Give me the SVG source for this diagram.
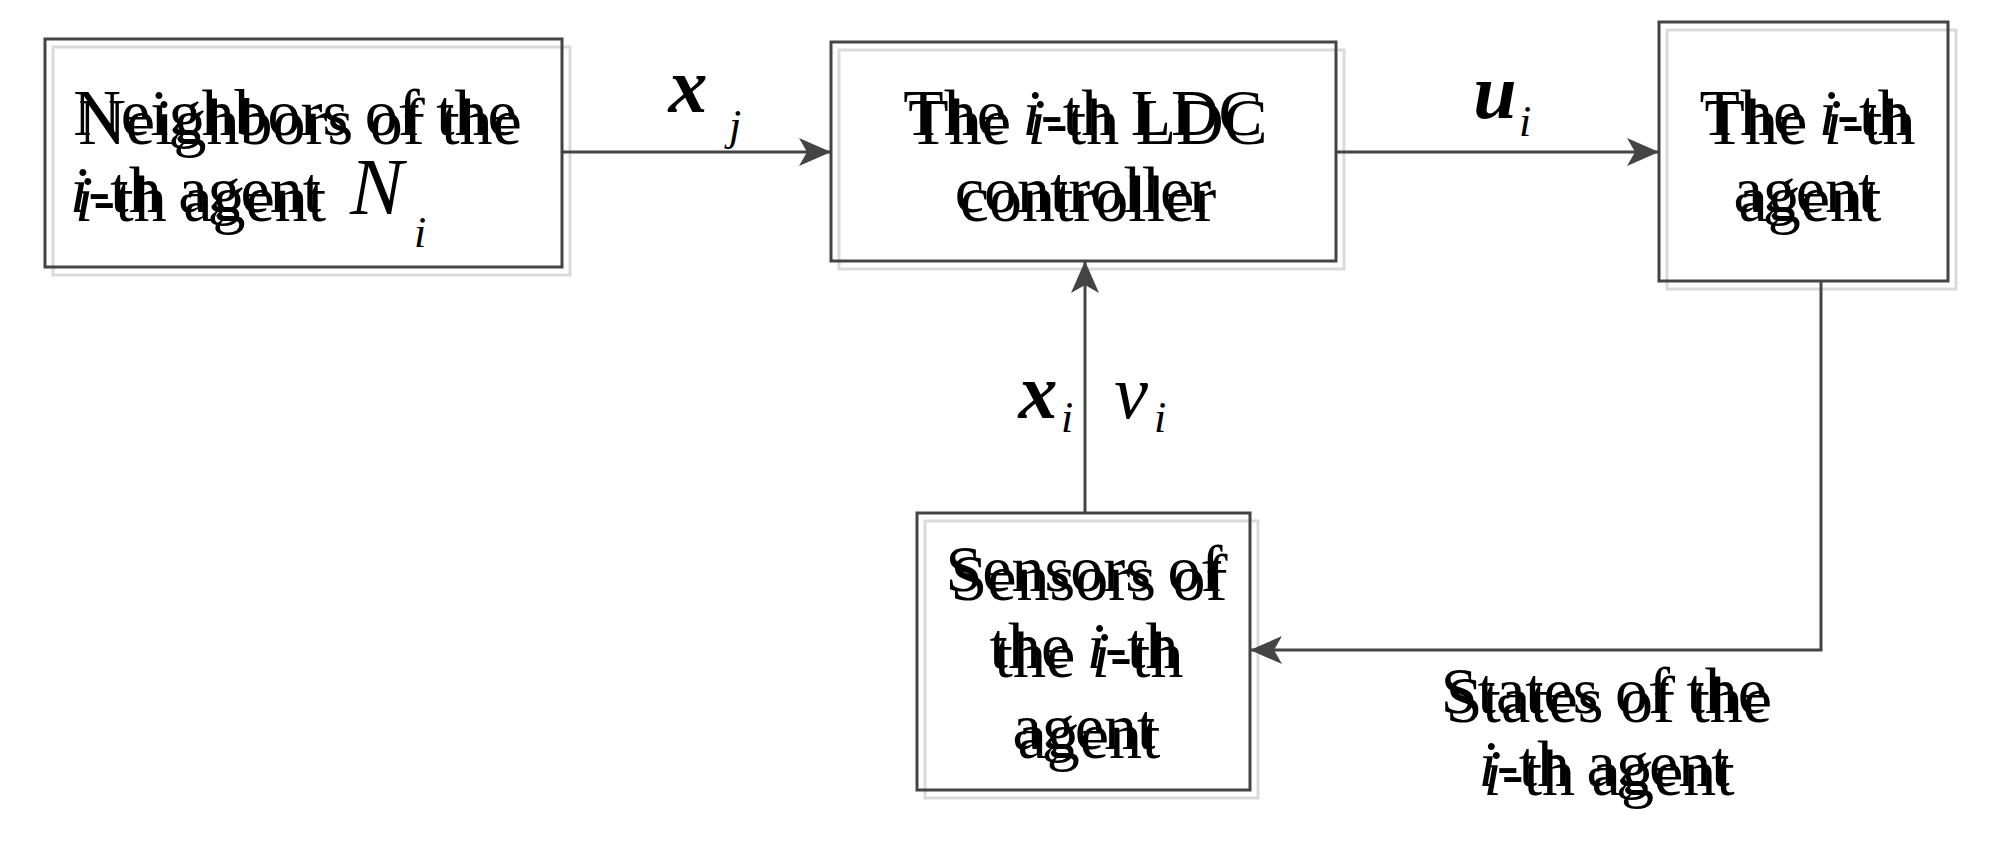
<svg xmlns="http://www.w3.org/2000/svg" xmlns:xlink="http://www.w3.org/1999/xlink" width="2015" height="841" viewBox="0 0 2015 841">
<style>
text{font-family:"Liberation Serif","Times New Roman",serif;font-size:66px;fill:#000;text-anchor:middle}
.sh text{fill:#ececec}
.it{font-style:italic}
.st{text-anchor:start}
.bi{font-style:italic;font-weight:bold;font-size:78px}
.sub{font-size:44px;font-style:italic}
.box{fill:none;stroke:#444;stroke-width:3}
.bsh{fill:none;stroke:#dadada;stroke-width:3}
.ln{fill:none;stroke:#444;stroke-width:3}
</style>
<defs>
<marker id="ah" viewBox="0 0 32 28" refX="32" refY="14" markerWidth="32" markerHeight="28" markerUnits="userSpaceOnUse" orient="auto">
<path d="M0,0 L32,14 L0,28 L8,14 Z" fill="#444"/>
</marker>
<g id="txt">
<text x="295" y="135">Neighbors of the</text>
<text class="st" x="70" y="212"><tspan class="it">i</tspan>-th agent</text>
<text x="1083" y="135">The <tspan class="it">i</tspan>-th LDC</text>
<text x="1083" y="212">controller</text>
<text x="1805" y="135">The <tspan class="it">i</tspan>-th</text>
<text x="1805" y="212">agent</text>
<text x="1084" y="591">Sensors of</text>
<text x="1084" y="668">the <tspan class="it">i</tspan>-th</text>
<text x="1084" y="749">agent</text>
<text x="1604" y="713">States of the</text>
<text x="1604" y="786"><tspan class="it">i</tspan>-th agent</text>
</g>
</defs>
<g class="sh"><use xlink:href="#txt" transform="translate(5,9)"/></g>
<g id="n1"><rect class="bsh" x="53" y="47" width="517" height="228"/><rect class="box" x="45" y="39" width="517" height="228"/>
<text class="it st" x="350" y="214" style="font-size:80px">N</text><text class="sub" x="420" y="247">i</text></g>
<g id="n2"><rect class="bsh" x="839" y="50" width="505" height="219"/><rect class="box" x="831" y="42" width="505" height="219"/></g>
<g id="n3"><rect class="bsh" x="1667" y="30" width="289" height="259"/><rect class="box" x="1659" y="22" width="289" height="259"/></g>
<g id="n4"><rect class="bsh" x="925" y="521" width="333" height="277"/><rect class="box" x="917" y="513" width="333" height="277"/></g>
<use xlink:href="#txt"/>
<g id="connectors">
<line class="ln" x1="562" y1="152" x2="831" y2="152" marker-end="url(#ah)"/>
<line class="ln" x1="1336" y1="152" x2="1659" y2="152" marker-end="url(#ah)"/>
<line class="ln" x1="1085" y1="513" x2="1085" y2="261" marker-end="url(#ah)"/>
<polyline class="ln" points="1821,281 1821,650 1250,650" marker-end="url(#ah)"/>
<text class="bi" x="688" y="112">x</text><text class="sub" x="735" y="140">j</text>
<text class="bi" x="1495" y="118">u</text><text class="sub" x="1525" y="136">i</text>
<text class="bi" x="1038" y="418">x</text><text class="sub" x="1067" y="432">i</text>
<text class="it" x="1131" y="418" style="font-size:76px">ν</text><text class="sub" x="1160" y="432">i</text>
</g>
</svg>
